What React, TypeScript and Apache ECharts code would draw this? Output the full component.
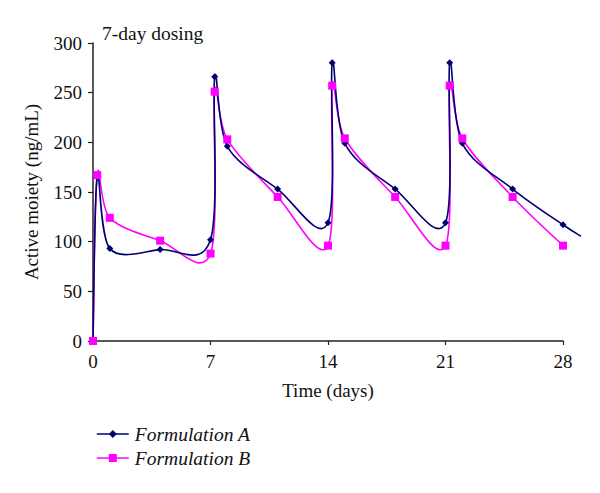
import React, { useEffect, useRef } from "react";
import * as echarts from "echarts";

const days = [0, 0.25, 1, 4, 7, 7.25, 8, 11, 14, 14.25, 15, 18, 21, 21.25, 22, 25, 28];
const formulationA = [0, 165, 93, 92, 102, 266, 196, 153, 119, 280, 199, 153, 119, 280, 199, 153, 117];
const formulationB = [0, 167, 124, 101, 88, 251, 203, 145, 96, 257, 204, 145, 96, 257, 204, 145, 96];
// trailing segment of Formulation A beyond the last marker
const tailA = [29.07, 105.5];
const xTicks = [0, 7, 14, 21, 28];
const yTicks = [0, 50, 100, 150, 200, 250, 300];

const FONT = "Liberation Serif";
const GRID_LEFT = 93;
const GRID_RIGHT = 37;
const GRID_TOP = 43;
const GRID_BOTTOM = 152;
const W = 600;
const NAVY = "#000070";
const MAGENTA = "#ff00ff";

function smoothPath(pts: number[][]): string {
  // Excel-like Catmull-Rom smoothing (tension 1/6)
  const n = pts.length;
  let d = `M${pts[0][0]},${pts[0][1]}`;
  for (let i = 0; i < n - 1; i++) {
    const p0 = pts[Math.max(0, i - 1)];
    const p1 = pts[i];
    const p2 = pts[i + 1];
    const p3 = pts[Math.min(n - 1, i + 2)];
    const c1x = p1[0] + (p2[0] - p0[0]) / 6;
    const c1y = p1[1] + (p2[1] - p0[1]) / 6;
    const c2x = p2[0] - (p3[0] - p1[0]) / 6;
    const c2y = p2[1] - (p3[1] - p1[1]) / 6;
    d += ` C${c1x},${c1y} ${c2x},${c2y} ${p2[0]},${p2[1]}`;
  }
  return d;
}

export default function App() {
  const ref = useRef<HTMLDivElement>(null);
  useEffect(() => {
    if (!ref.current) return;
    const chart = echarts.init(ref.current, undefined, { renderer: "svg" });
    const xMax = xTicks[xTicks.length - 1];
    const pxPerDay = (W - GRID_LEFT - GRID_RIGHT) / xMax;
    const xMax2 = tailA[0];
    const right2 = W - GRID_LEFT - xMax2 * pxPerDay;

    const ptsA: number[][] = days.map((d, i) => [d, formulationA[i]]);
    const curveA = ptsA.concat([tailA]);
    const ptsB: number[][] = days.map((d, i) => [d, formulationB[i]]);

    const curveSeries = (name: string, pts: number[][], color: string) => ({
      name,
      type: "custom",
      xAxisIndex: 1,
      yAxisIndex: 1,
      clip: false,
      silent: true,
      z: 1,
      data: pts,
      encode: { x: 0, y: 1 },
      renderItem: (params: any, api: any) => {
        if (params.dataIndex !== 0) return null;
        const px = pts.map((p) => api.coord(p));
        return {
          type: "path",
          shape: { pathData: smoothPath(px) },
          style: { fill: "none", stroke: color, lineWidth: 1.6 },
        };
      },
    });

    chart.setOption({
      animation: false,
      backgroundColor: "#ffffff",
      textStyle: { fontFamily: FONT },
      grid: [
        { left: GRID_LEFT, top: GRID_TOP, right: GRID_RIGHT, bottom: GRID_BOTTOM, containLabel: false },
        { left: GRID_LEFT, top: GRID_TOP, right: right2, bottom: GRID_BOTTOM, containLabel: false },
      ],
      title: {
        text: "7-day dosing",
        left: 97,
        top: 18,
        textStyle: { fontFamily: FONT, fontSize: 19.5, fontWeight: "normal", color: "#111" },
      },
      legend: {
        orient: "vertical",
        left: 91,
        top: 419,
        itemWidth: 32,
        itemHeight: 10,
        itemGap: 4,
        lineStyle: { width: 1.6, opacity: 1 },
        textStyle: {
          fontFamily: FONT,
          fontSize: 19.5,
          lineHeight: 19,
          fontStyle: "italic",
          color: "#111",
          padding: [0, 0, 0, 1],
        },
        data: ["Formulation A", "Formulation B"],
      },
      xAxis: [
        {
          gridIndex: 0,
          type: "value",
          min: xTicks[0],
          max: xMax,
          interval: 7,
          name: "Time (days)",
          nameLocation: "middle",
          nameGap: 40,
          nameTextStyle: { fontFamily: FONT, fontSize: 19, color: "#111" },
          axisLine: { show: true, lineStyle: { color: "#222", width: 1.5 } },
          axisTick: { show: true, length: 4, lineStyle: { color: "#222", width: 1.2 } },
          axisLabel: { fontFamily: FONT, fontSize: 19, color: "#111", margin: 11 },
          splitLine: { show: false },
        },
        {
          gridIndex: 1,
          type: "value",
          min: xTicks[0],
          max: xMax2,
          show: false,
          splitLine: { show: false },
        },
      ],
      yAxis: [
        {
          gridIndex: 0,
          type: "value",
          min: yTicks[0],
          max: yTicks[yTicks.length - 1],
          interval: 50,
          name: "Active moiety (ng/mL)",
          nameLocation: "middle",
          nameGap: 52,
          nameTextStyle: { fontFamily: FONT, fontSize: 19, color: "#111" },
          axisLine: { show: true, lineStyle: { color: "#222", width: 1.5 } },
          axisTick: { show: true, length: 5, lineStyle: { color: "#222", width: 1.2 } },
          axisLabel: { fontFamily: FONT, fontSize: 19, color: "#111", margin: 11 },
          splitLine: { show: false },
        },
        {
          gridIndex: 1,
          type: "value",
          min: yTicks[0],
          max: yTicks[yTicks.length - 1],
          show: false,
          splitLine: { show: false },
        },
      ],
      series: [
        curveSeries("Formulation B curve", ptsB, MAGENTA),
        curveSeries("Formulation A curve", curveA, NAVY),
        {
          name: "Formulation A",
          type: "line",
          xAxisIndex: 1,
          yAxisIndex: 1,
          data: ptsA,
          clip: false,
          symbol: "diamond",
          symbolSize: 7,
          color: NAVY,
          lineStyle: { color: NAVY, width: 0, opacity: 0 },
          itemStyle: { color: NAVY },
          z: 3,
        },
        {
          name: "Formulation B",
          type: "line",
          xAxisIndex: 1,
          yAxisIndex: 1,
          data: ptsB,
          clip: false,
          symbol: "rect",
          symbolSize: 8,
          color: MAGENTA,
          lineStyle: { color: MAGENTA, width: 0, opacity: 0 },
          itemStyle: { color: MAGENTA },
          z: 4,
        },
      ],
    });
    return () => chart.dispose();
  }, []);
  return <div ref={ref} style={{ width: 600, height: 493, position: "absolute", left: 0, top: 0 }} />;
}
